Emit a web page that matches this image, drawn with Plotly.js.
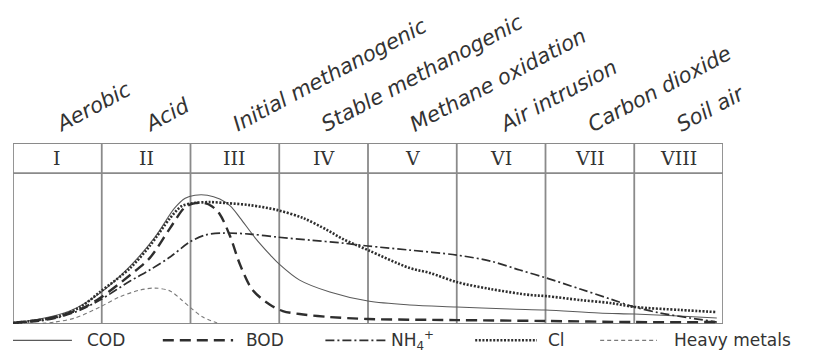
<!DOCTYPE html>
<html>
<head>
<meta charset="utf-8">
<script src="https://cdn.plot.ly/plotly-3.0.1.min.js"></script>
<style>
html,body{margin:0;padding:0;background:#fff;}
#chart{width:831px;height:352px;}
</style>
</head>
<body>
<div id="chart"></div>
<script>
// ---- data ----
const phaseNumerals = ['I','II','III','IV','V','VI','VII','VIII'];
const phaseNames = ['Aerobic','Acid','Initial methanogenic','Stable methanogenic','Methane oxidation','Air intrusion','Carbon dioxide','Soil air'];

const seriesNames = ['COD','BOD','NH<sub>4</sub><sup>+</sup>','Cl','Heavy metals'];

const codX = [0,0.3,0.64,0.98,1.32,1.6,1.82,1.94,2.05,2.19,2.33,2.45,2.56,2.73,2.9,3.0,3.23,3.57,4.0,4.47,5.0,5.6,6.0,6.6,7.0,7.5,7.93];
const codY = [0.7,3.3,8.6,20.5,38.4,57.6,76.8,83.4,85.4,85.4,82.8,78.1,70.2,57.0,45.7,39.7,29.1,21.2,15.2,12.6,11.3,9.9,9.3,7.3,6.6,5.3,4.0];

const bodX = [0,0.42,0.76,0.98,1.32,1.54,1.77,1.94,2.05,2.16,2.24,2.33,2.45,2.56,2.7,2.9,3.04,3.23,3.57,4.0,5.0,6.0,7.0,7.93];
const bodY = [0.7,4.0,9.9,17.2,32.5,43.7,63.6,77.5,80.1,80.1,78.1,72.8,57.6,39.1,22.5,12.6,8.6,6.6,4.6,3.3,2.6,2.0,1.3,1.3];

const nh4X = [0,0.3,0.53,0.76,0.98,1.32,1.54,1.77,1.99,2.16,2.37,2.67,2.98,3.35,3.72,4.0,4.47,5.0,5.38,5.71,6.01,6.39,6.73,7.0,7.29,7.63,7.93];
const nh4Y = [0.7,2.0,4.6,9.3,15.9,28.5,35.8,44.4,54.3,58.9,60.3,59.6,57.6,55.6,53.6,51.7,49.0,45.7,41.7,35.8,30.5,23.2,16.6,11.3,7.3,4.0,1.3];

const clX = [0,0.3,0.53,0.76,0.98,1.32,1.54,1.77,1.9,2.03,2.22,2.41,2.67,2.98,3.27,3.54,3.72,4.0,4.47,4.7,5.0,5.38,5.83,6.01,6.39,6.73,7.01,7.52,7.93];
const clY = [0.7,2.6,5.3,11.3,21.2,37.1,51.7,70.2,78.1,80.1,80.8,80.1,78.8,75.5,70.2,62.3,56.3,49.0,37.1,33.8,27.8,23.2,19.2,18.5,15.9,13.9,11.3,9.3,7.9];

const hmX = [0.25,0.47,0.7,0.98,1.2,1.43,1.6,1.77,1.9,2.02,2.14,2.3];
const hmY = [0,1.3,4.0,11.3,17.9,22.5,23.8,21.9,15.9,9.9,4.6,0.7];

// ---- styles ----
const styles = [
  {color:'#5a5a5a', width:1.1, dash:'solid'},
  {color:'#2e2e2e', width:2.4, dash:'11px,6px'},
  {color:'#2e2e2e', width:1.7, dash:'9px,3px,2px,3px'},
  {color:'#2e2e2e', width:2.6, dash:'2px,1.6px'},
  {color:'#7a7a7a', width:1.1, dash:'4px,3px'}
];
const xs = [codX,bodX,nh4X,clX,hmX];
const ys = [codY,bodY,nh4Y,clY,hmY];

const traces = xs.map((x,i)=>({
  x:x, y:ys[i], type:'scatter', mode:'lines', name:seriesNames[i],
  line:{color:styles[i].color, width:styles[i].width, dash:styles[i].dash, shape:'spline', smoothing:0.9},
  hoverinfo:'skip', showlegend:false
}));

const nPh = phaseNumerals.length;
const yPlotTop = 100, yHeadTop = 120;
const gridColor = '#8a8a8a';
const shapes = [];
for (let i=0;i<=nPh;i++){
  shapes.push({type:'line', xref:'x', yref:'y', x0:i, x1:i, y0:0, y1:yHeadTop, layer:'below',
    line:{color:gridColor, width:1.8}});
}
[0, yPlotTop, yHeadTop].forEach(v=>{
  shapes.push({type:'line', xref:'x', yref:'y', x0:0, x1:nPh, y0:v, y1:v, layer:'below',
    line:{color:gridColor, width:1.8}});
});

const annotations = [];
phaseNumerals.forEach((t,i)=>{
  annotations.push({x:(i+0.5)/nPh, y:(yPlotTop+yHeadTop)/2/yHeadTop, xref:'paper', yref:'paper', text:t, showarrow:false,
    font:{family:'DejaVu Serif', size:19, color:'#333'}, xanchor:'center', yanchor:'middle'});
});
phaseNames.forEach((t,i)=>{
  annotations.push({x:(i+0.4)/nPh, y:1.02, xref:'paper', yref:'paper', text:t, showarrow:false, textangle:-28,
    font:{family:'DejaVu Sans', size:21, style:'italic', color:'#333'}, xanchor:'left', yanchor:'bottom'});
});

// manual legend below plot (paper coords)
const legendY = -0.09;
const legendPos = [
  {l0:0.0, l1:0.083, t:0.101},
  {l0:0.211, l1:0.31, t:0.325},
  {l0:0.44, l1:0.527, t:0.53},
  {l0:0.651, l1:0.738, t:0.75},
  {l0:0.827, l1:0.907, t:0.928}
];
legendPos.forEach((p,i)=>{
  shapes.push({type:'line', xref:'paper', yref:'paper', x0:p.l0, x1:p.l1, y0:legendY, y1:legendY,
    line:{color:styles[i].color, width:Math.max(styles[i].width,1.3), dash:styles[i].dash}});
  annotations.push({x:p.t, y:legendY, xref:'paper', yref:'paper', text:seriesNames[i], showarrow:false,
    font:{family:'DejaVu Sans', size:17, color:'#333'}, xanchor:'left', yanchor:'middle'});
});

const layout = {
  width:831, height:352,
  margin:{l:13, r:108, t:143, b:28, pad:0},
  paper_bgcolor:'#fff', plot_bgcolor:'#fff',
  xaxis:{range:[0,nPh], visible:false, fixedrange:true},
  yaxis:{range:[0,yHeadTop], visible:false, fixedrange:true},
  showlegend:false,
  shapes:shapes,
  annotations:annotations
};

Plotly.newPlot('chart', traces, layout, {staticPlot:true, displayModeBar:false});
</script>
</body>
</html>
